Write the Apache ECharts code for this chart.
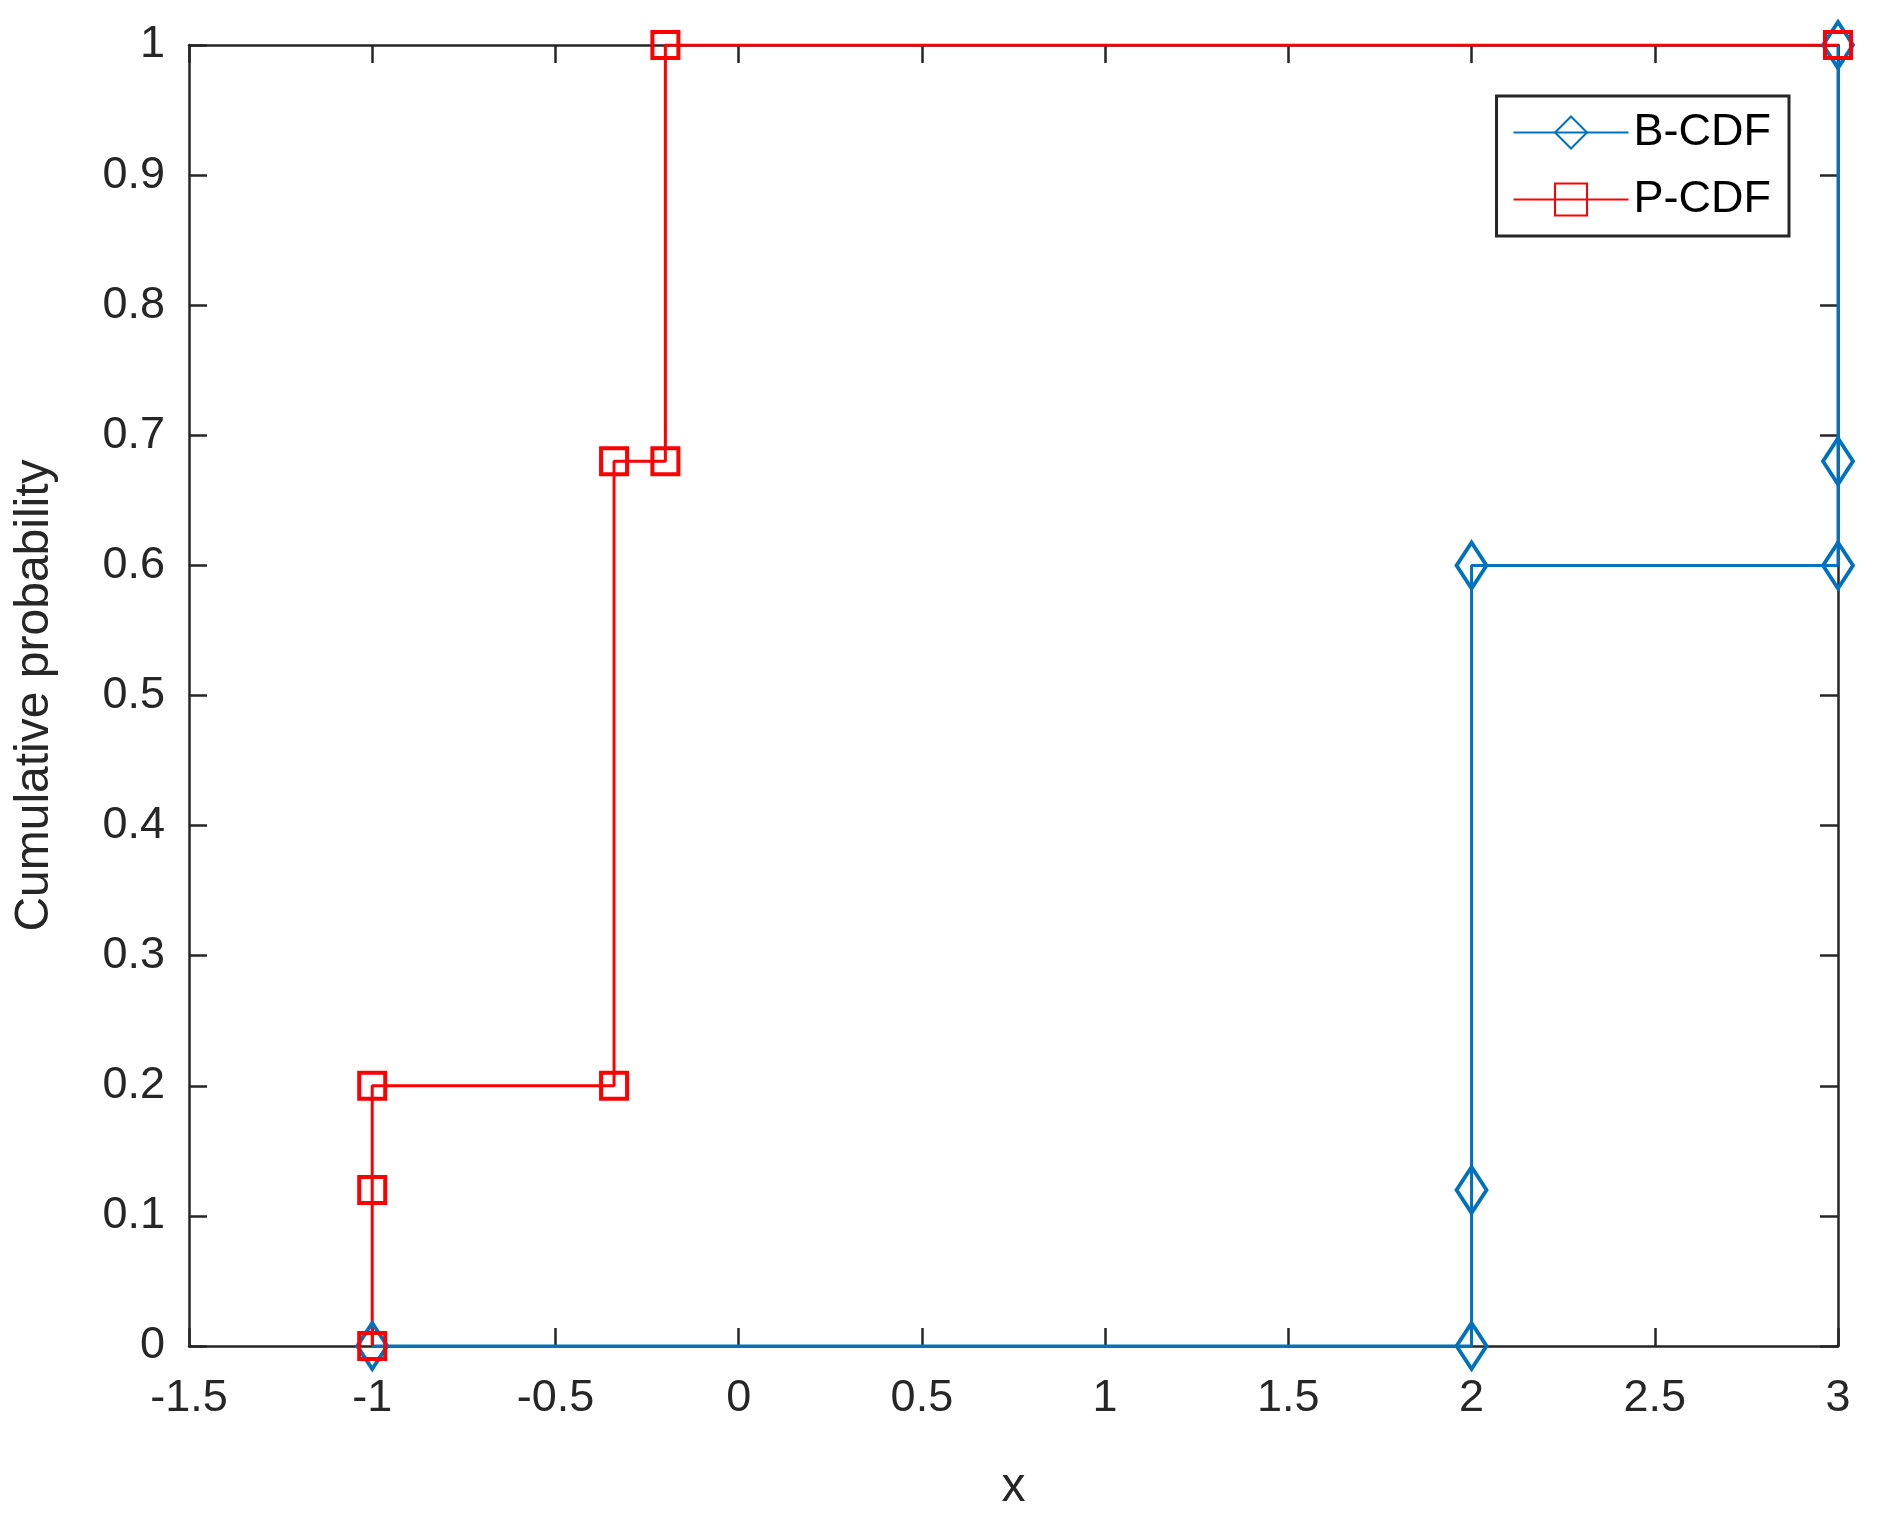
<!DOCTYPE html>
<html><head><meta charset="UTF-8">
<script src="https://cdn.jsdelivr.net/npm/echarts@6/dist/echarts.min.js"></script>
<style>html,body{margin:0;background:#fff}#main{width:1877px;height:1517px}</style>
</head><body><div id="main"></div>
<script>
// step points of each empirical CDF
var bX = [-1, 2, 2, 2, 3, 3, 3];
var bY = [0, 0, 0.12, 0.6, 0.6, 0.68, 1];
var pX = [-1, -1, -1, -0.34, -0.34, -0.2, -0.2, 3];
var pY = [0, 0.12, 0.2, 0.2, 0.68, 0.68, 1, 1];

function pts(xs, ys) { return xs.map(function (x, i) { return [x, ys[i]]; }); }
var font = 'Liberation Sans, Arial, sans-serif';
var lineC = '#262626';
var chart = echarts.init(document.getElementById('main'));
function ax(extra) {
    return Object.assign({
        type: 'value', splitLine: { show: false },
        axisLine: { show: true, onZero: false, lineStyle: { color: lineC, width: 2.5 } },
        axisTick: { show: true, inside: true, length: 18, lineStyle: { color: lineC, width: 2.5 } },
        axisLabel: { color: lineC, fontSize: 45, fontFamily: font }
    }, extra);
}
chart.setOption({
    animation: false,
    grid: { left: 189, right: 39, top: 45, bottom: 168 },
    xAxis: [
        ax({ min: -1.5, max: 3, interval: 0.5, name: 'x', nameLocation: 'middle', nameGap: 118,
             nameTextStyle: { color: lineC, fontSize: 48, fontFamily: font },
             axisLabel: { color: lineC, fontSize: 45, fontFamily: font, margin: 30 } }),
        ax({ min: -1.5, max: 3, interval: 0.5, position: 'top', axisLabel: { show: false } })
    ],
    yAxis: [
        ax({ min: 0, max: 1, interval: 0.1, name: 'Cumulative probability', nameLocation: 'middle', nameGap: 130,
             nameTextStyle: { color: lineC, fontSize: 48, fontFamily: font },
             axisLabel: { color: lineC, fontSize: 45, fontFamily: font, margin: 24 } }),
        ax({ min: 0, max: 1, interval: 0.1, position: 'right', axisLabel: { show: false } })
    ],
    legend: {
        right: 88, top: 96, orient: 'vertical', itemWidth: 115, itemHeight: 40, itemGap: 22,
        padding: [14, 18, 14, 16], borderColor: lineC, borderWidth: 3, backgroundColor: '#fff',
        textStyle: { fontSize: 45, fontFamily: font, color: '#000' },
        data: ['B-CDF', 'P-CDF']
    },
    series: [
        { name: 'B-CDF', type: 'line', data: pts(bX, bY), symbol: 'diamond', symbolSize: [30, 46],
          lineStyle: { color: '#0072BD', width: 3 },
          itemStyle: { color: 'transparent', borderColor: '#0072BD', borderWidth: 4 } },
        { name: 'P-CDF', type: 'line', data: pts(pX, pY), symbol: 'rect', symbolSize: 26,
          lineStyle: { color: '#FF0000', width: 3 },
          itemStyle: { color: 'transparent', borderColor: '#FF0000', borderWidth: 4 } }
    ]
});
</script></body></html>
